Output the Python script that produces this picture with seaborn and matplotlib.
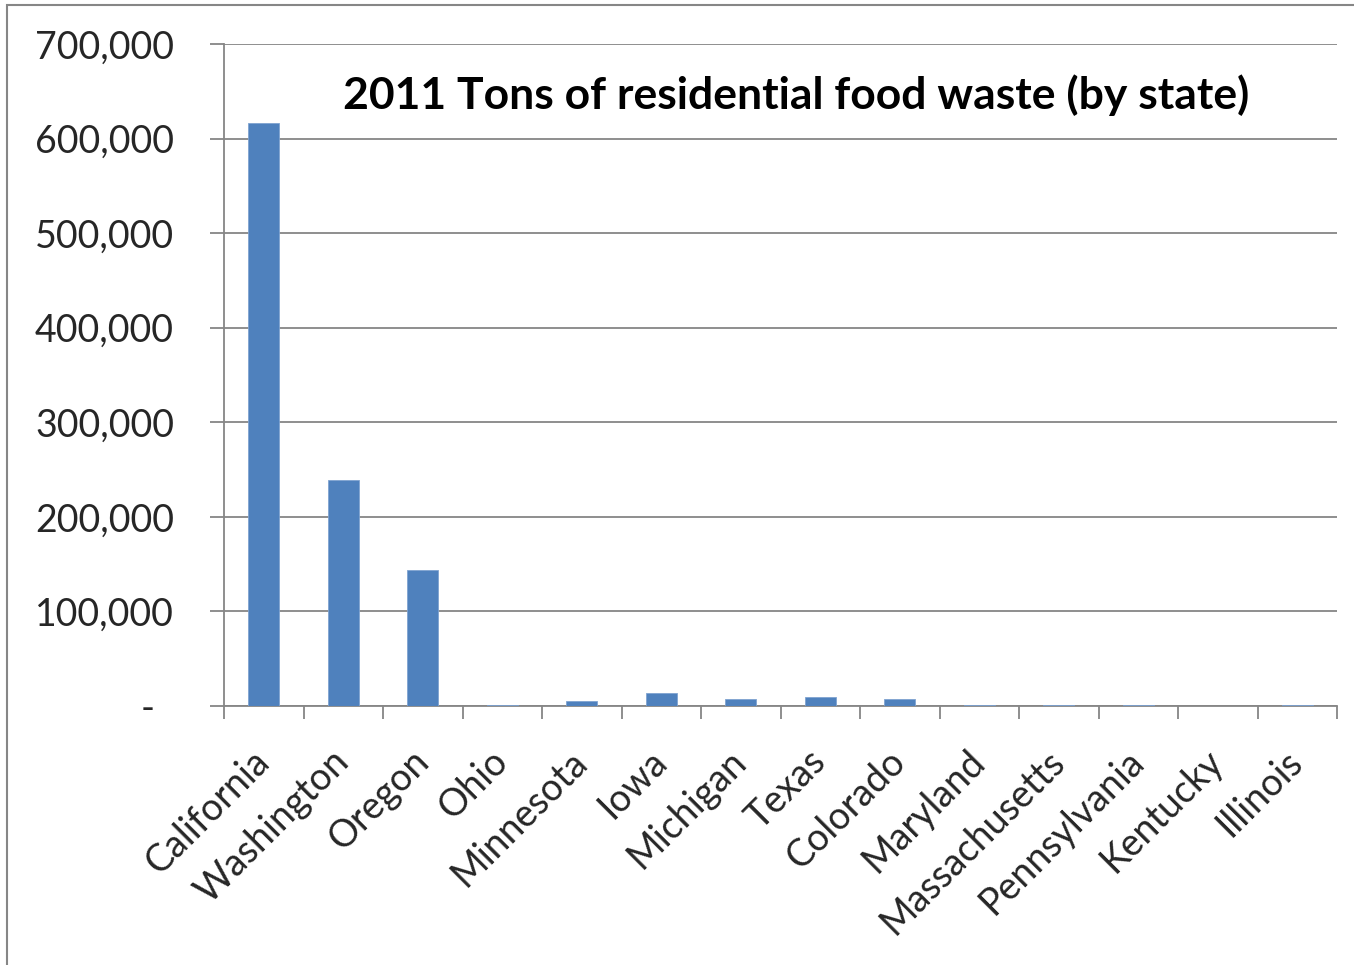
import numpy as np
import pandas as pd
import matplotlib
matplotlib.use("Agg")
import matplotlib.pyplot as plt
from matplotlib.patches import Rectangle
import seaborn as sns

# ── Data ──────────────────────────────────────────────────────────────────────
STATES = [
    "California", "Washington", "Oregon", "Ohio", "Minnesota", "Iowa",
    "Michigan", "Texas", "Colorado", "Maryland", "Massachusetts",
    "Pennsylvania", "Kentucky", "Illinois",
]
TONS = [
    616000, 239000, 144000, 800, 5000, 13500,
    7000, 9000, 7000, 800, 800,
    800, 0, 800,
]
TITLE = "2011 Tons of residential food waste (by state)"
Y_TICKS = [0, 100000, 200000, 300000, 400000, 500000, 600000, 700000]

BAR_COLOR = "#4F81BD"
GRID_COLOR = "#868686"

df = pd.DataFrame({"state": STATES, "tons": TONS})

sns.set_theme(style="white")
plt.rcParams["font.family"] = ["Lato", "DejaVu Sans"]

fig = plt.figure(figsize=(13.54, 9.65), dpi=100)
ax = fig.add_axes([224 / 1354, 1 - 706 / 965, (1337 - 224) / 1354, (706 - 44) / 965])

sns.barplot(data=df, x="state", y="tons", color=BAR_COLOR, width=0.39,
            edgecolor="#7FA3D0", linewidth=0.6, saturation=1, ax=ax, zorder=3)

ax.set_xlim(-0.5, len(STATES) - 0.5)
ax.set_ylim(0, 700000)

# y axis: Excel style gridlines + outward ticks ("-" for zero, accounting style)
ax.set_yticks(Y_TICKS)
ax.set_yticklabels(["-  " if v == 0 else f"{v:,}" for v in Y_TICKS], fontsize=27)
ax.yaxis.grid(True, color=GRID_COLOR, linewidth=1.3, zorder=0)
ax.tick_params(axis="y", length=10, width=1.3, color=GRID_COLOR, pad=26,
               left=True)

# x axis: ticks at category boundaries, labels centred on bars
bounds = np.arange(-0.5, len(STATES), 1.0)
ax.set_xticks(bounds)
ax.set_xticklabels([""] * len(bounds))
ax.set_xticks(np.arange(len(STATES)), minor=True)
ax.set_xticklabels(STATES, minor=True, rotation=45, ha="right", va="center",
                   rotation_mode="anchor", fontsize=27)
ax.tick_params(axis="x", which="major", length=9, width=1.3, color=GRID_COLOR,
               bottom=True)
ax.tick_params(axis="x", which="minor", length=0, pad=36)

ax.set_xlabel("")
ax.set_ylabel("")

for side in ["top", "right"]:
    ax.spines[side].set_visible(False)
for side in ["left", "bottom"]:
    ax.spines[side].set_color(GRID_COLOR)
    ax.spines[side].set_linewidth(1.3)

ax.text(0.514, 0.923, TITLE, transform=ax.transAxes, ha="center", va="center",
        fontsize=32, fontweight="bold", color="black")

# chart area frame (left and top edges visible, rest is cropped)
fig.patches.append(Rectangle((7 / 1354, -0.1), 1.2, 1 - 5 / 965 + 0.1,
                             transform=fig.transFigure, fill=False,
                             edgecolor=GRID_COLOR, linewidth=1.5))

fig.savefig("out.png", dpi=100)
